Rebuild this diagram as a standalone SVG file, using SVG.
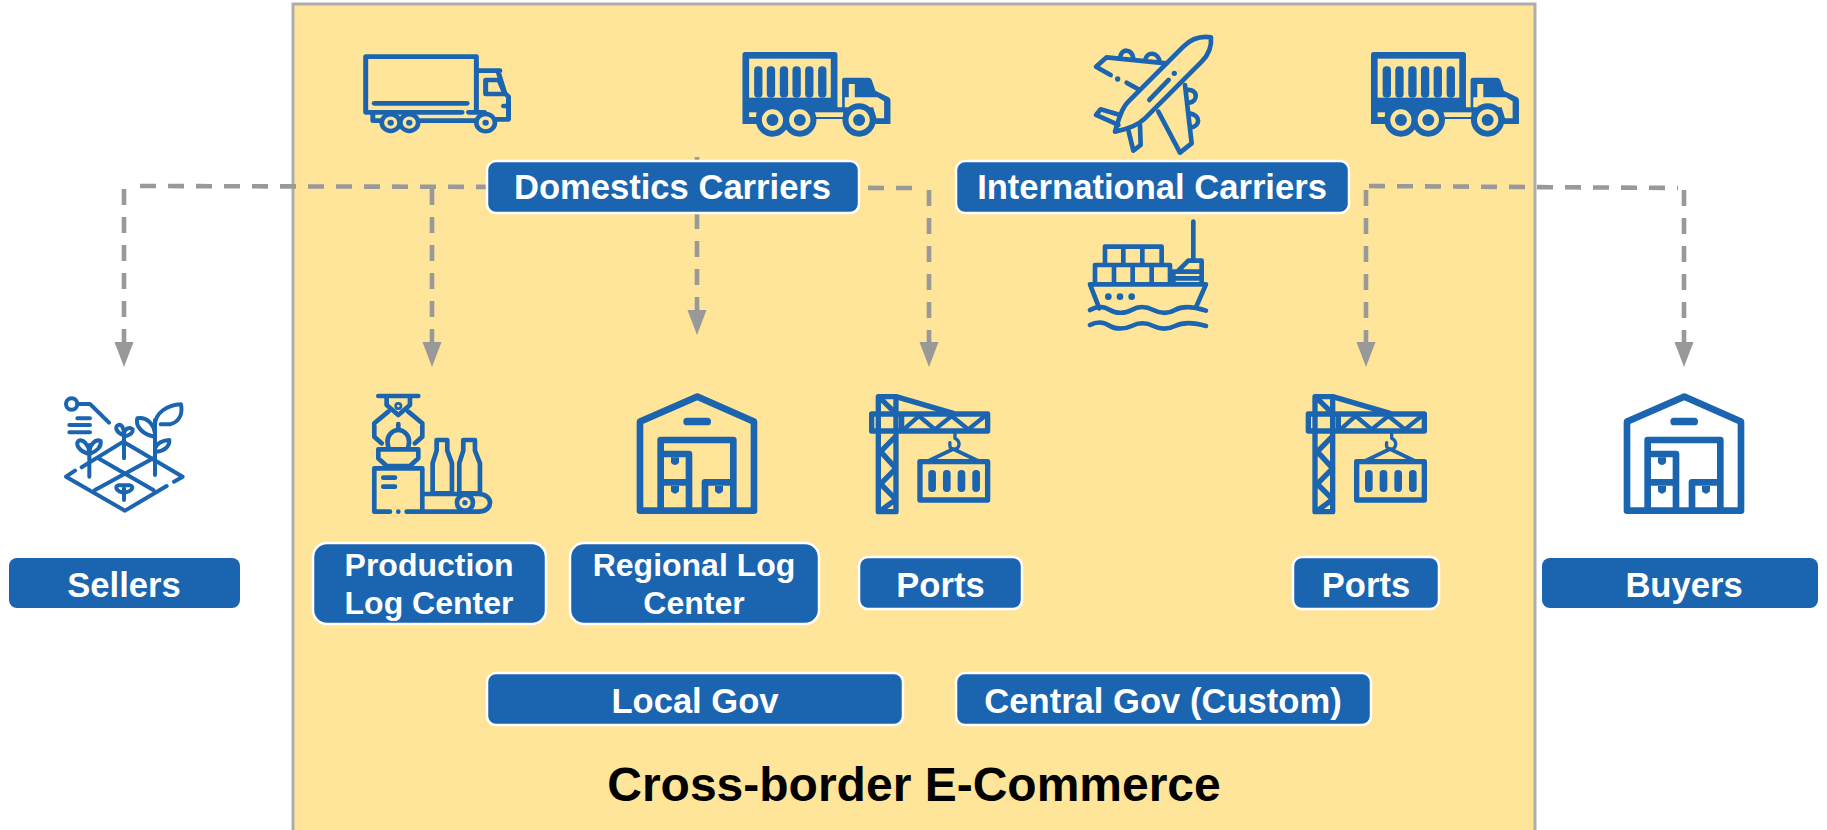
<svg xmlns="http://www.w3.org/2000/svg" width="1827" height="830" viewBox="0 0 1827 830">
<style>
.box{fill:#1b64b0;stroke:#fff;stroke-width:2.5}
.ext{fill:#1b64b0}
.lbl{font-family:"Liberation Sans",Arial,sans-serif;font-weight:700;font-size:34.6px;fill:#fff;text-anchor:middle}
.two{font-size:32px}
.title{font-family:"Liberation Sans",Arial,sans-serif;font-weight:700;font-size:48px;fill:#000;text-anchor:middle}
.conn{fill:none;stroke:#999;stroke-width:4.6;stroke-dasharray:16 12}
.arr{fill:none;stroke:#999;stroke-width:4.6;stroke-dasharray:16 12;marker-end:url(#ah)}
.ic{fill:none;stroke:#1b64b0;stroke-width:14;stroke-linecap:round;stroke-linejoin:round}
.f{fill:#1b64b0;stroke:none}
.y{fill:#ffe599;stroke:none}
</style>
<defs>
<marker id="ah" markerUnits="userSpaceOnUse" markerWidth="26" markerHeight="20" refX="0" refY="10" orient="auto">
<path d="M0 0.5L25 10L0 19.5Z" fill="#999"/>
</marker>
<g id="ctruck">
<path class="f" d="M933 104Q933 96 941 96H1210Q1218 96 1218 104V262H1232V180Q1232 173 1240 173H1310Q1318 173 1321 180L1332 212L1372 232Q1377 235 1377 240V312H1325V297H1145V312H933Z"/>
<rect class="y" x="953" y="116" width="245" height="117"/>
<g class="f"><rect x="968" y="139" width="25" height="94" rx="12"/><rect x="1006" y="139" width="25" height="94" rx="12"/><rect x="1045" y="139" width="25" height="94" rx="12"/><rect x="1083" y="139" width="25" height="94" rx="12"/><rect x="1121" y="139" width="25" height="94" rx="12"/><rect x="1160" y="139" width="25" height="94" rx="12"/></g>
<path class="y" d="M1252 192H1270V232H1252ZM1252 232H1338L1358 244V295H1335L1325 262H1240V232Z"/>
<rect class="y" x="953" y="277" width="22" height="14"/>
<rect class="y" x="1150" y="277" width="85" height="14"/>
<g fill="#ffe599" stroke="#1b64b0" stroke-width="18"><circle cx="1023" cy="300" r="41"/><circle cx="1105" cy="300" r="41"/><circle cx="1283" cy="300" r="41"/></g>
<g class="f"><circle cx="1023" cy="300" r="18"/><circle cx="1105" cy="300" r="18"/><circle cx="1283" cy="300" r="18"/></g>
</g>
<g id="wh">
<path d="M60 392V125L232 50L402 125V392Z" fill="none" stroke="#1b64b0" stroke-width="20" stroke-linejoin="round"/>
<rect class="f" x="190" y="113" width="83" height="23" rx="11"/>
<path d="M122 392V180H340V392M122 222H207V392M122 307H207M255 392V307H340" fill="none" stroke="#1b64b0" stroke-width="20" stroke-linejoin="round"/>
<path class="f" d="M153 232V248Q165 262 177 248V232ZM153 318V334Q165 348 177 334V318ZM285 318V334Q297 348 309 334V318Z"/>
</g>
<g id="crane">
<g fill="none" stroke="#1b64b0" stroke-width="16" stroke-linejoin="round" stroke-linecap="round">
<path d="M775 395V50H828V395ZM755 102H1103V153H755ZM845 102V153M828 50L1000 100M778 52L825 98M828 168L782 215L828 265L782 312L828 358L782 392"/>
<path d="M855 145L897 108L945 148L995 108L1045 148L1095 108" stroke-width="13"/>
<path d="M1005 158V175C1025 185 1018 210 1000 208C990 206 988 198 990 188" stroke-width="10"/>
<path d="M925 243L1000 207L1075 243" stroke-width="11"/>
<rect x="900" y="245" width="203" height="115"/>
</g>
<g class="f"><rect x="925" y="270" width="23" height="66" rx="11"/><rect x="969" y="270" width="23" height="66" rx="11"/><rect x="1013" y="270" width="23" height="66" rx="11"/><rect x="1057" y="270" width="23" height="66" rx="11"/></g>
</g>
</defs>
<rect id="panel" x="293" y="4" width="1242" height="830" fill="#ffe599" stroke="#aeaeae" stroke-width="3"/>
<g id="connectors">
<path class="conn" d="M140 186L912 188"/>
<path class="arr" d="M124 189V342"/>
<path class="arr" d="M432 189V342"/>
<path class="arr" d="M697 157V310"/>
<path class="arr" d="M929 190V342"/>
<path class="conn" d="M1369 186L1678 188"/>
<path class="arr" d="M1366 190V342"/>
<path class="arr" d="M1684 190V342"/>
</g>
<g id="truck-1" transform="translate(340 30) scale(.357 .3333)">
<path class="ic" d="M342 247H72V80H382V240M360 247H405M382 122H448M442 122L462 190L472 200V268H440M408 150H445L462 192H408ZM472 228H458M92 250V272H112M225 272H378"/>
<path class="ic" d="M96 220H356"/>
<g fill="#ffe599" stroke="#1b64b0" stroke-width="13"><circle cx="142" cy="278" r="25"/><circle cx="194" cy="278" r="25"/><circle cx="408" cy="278" r="26"/></g>
<g class="f"><circle cx="142" cy="278" r="9"/><circle cx="194" cy="278" r="9"/><circle cx="408" cy="278" r="9"/></g>
</g>
<use id="truck-2" href="#ctruck" transform="translate(431.5 20) scale(.3333)"/>
<g id="plane" transform="translate(1070 30) scale(.3333)">
<path class="ic" d="M423 22C395 18 365 25 340 50L175 215C155 235 145 270 135 305C170 298 205 285 225 265L395 95C420 70 425 45 423 22Z"/>
<path class="ic" d="M290 100L110 82L78 110L122 135M170 158L205 178M150 82C155 55 185 55 190 85M225 92C230 62 265 65 270 98M150 255L92 238L78 255L145 285M175 300L190 362L212 345L210 285M265 245L330 368L365 340L345 165M350 180C385 175 385 215 358 218M358 250C395 255 390 290 362 292M238 210L296 150"/>
<circle class="f" cx="143" cy="147" r="8"/><circle class="f" cx="313" cy="130" r="8"/>
</g>
<use id="truck-3" href="#ctruck" transform="translate(1060 20) scale(.3333)"/>
<g id="ship" transform="translate(1060 20) scale(.3333)">
<path class="ic" d="M400 605V722M135 735V680H305V735M190 680V735M247 680V735M105 790V735H330V790M162 735V790M218 735V790M275 735V790M340 790V755H425M340 775H425M425 790V722H385L352 755"/>
<path class="ic" d="M90 793H438L408 862M90 793L118 865M90 870C115 855 135 860 150 870S195 882 215 870S260 860 280 870S325 882 345 870S395 858 438 872M90 915C115 902 135 908 150 918S195 928 215 918S260 908 280 918S325 928 345 918S395 905 438 918"/>
<g class="f"><circle cx="145" cy="830" r="10"/><circle cx="180" cy="830" r="10"/><circle cx="215" cy="830" r="10"/></g>
</g>
<g id="domestics"><rect class="box" x="487" y="161" width="372" height="52" rx="9"/><text class="lbl" x="672.5" y="199">Domestics Carriers</text></g>
<g id="international"><rect class="box" x="956" y="161" width="393" height="52" rx="9"/><text class="lbl" x="1152" y="199">International Carriers</text></g>
<g id="sellers">
<g transform="translate(40 380) scale(.3333)">
<circle class="ic" cx="95" cy="72" r="17" style="stroke-width:12"/>
<path class="ic" style="stroke-width:12" d="M112 72H150L207 128M112 115H150M88 135H150M88 157H150M105 272L78 290L255 392L380 318M402 305L428 290L250 185L125 262M175 235L340 330M340 235L165 330M148 290V195M252 235V160M252 360V325M345 285V120"/>
<path class="ic" style="stroke-width:12" d="M148 222C120 215 105 195 115 183C130 175 145 195 148 215C150 195 165 175 182 183C185 200 170 215 148 222ZM252 165C230 160 222 140 235 135C245 132 252 145 252 160C255 145 270 140 278 148C280 158 270 165 252 170ZM252 338C230 335 222 320 235 316H270C285 320 275 335 252 338ZM345 170C310 165 285 140 292 115C320 110 340 130 345 160M345 135C345 100 380 75 423 73C428 100 420 125 390 133H362M345 215C370 215 390 200 388 180C370 180 350 190 345 205"/>
</g>
<rect class="ext" x="9" y="558" width="231" height="50" rx="8"/><text class="lbl" x="124" y="597">Sellers</text></g>
<g id="production">
<g transform="translate(40 380) scale(.3333)">
<path class="ic" d="M1015 48H1135M1040 50V75L1075 105L1110 75V50M1045 95L1003 130V170L1025 190M1105 95L1147 130V170L1125 190M1045 200C1035 165 1060 150 1075 150C1090 150 1115 165 1105 200M1075 132V150M1015 208H1135V235L1110 258H1040L1015 235ZM1050 395H1003V265H1147V395H1100M1030 293H1065M1030 320H1065M1190 180H1222V212L1236 250V340H1178V250L1190 212ZM1270 180H1305V212L1320 250V340H1258V250L1270 212ZM1147 342H1315C1362 342 1362 395 1315 395H1147"/>
<circle class="ic" cx="1075" cy="78" r="8" style="stroke-width:8"/>
<circle class="ic" cx="1275" cy="368" r="24"/><circle class="f" cx="1275" cy="368" r="8"/><circle class="f" cx="1075" cy="395" r="7"/>
</g>
<rect class="box" x="313" y="543" width="233" height="81" rx="14"/><text class="lbl two" x="429" y="576">Production</text><text class="lbl two" x="429" y="614">Log Center</text></g>
<g id="regional">
<use href="#wh" transform="translate(620 380) scale(.3333)"/>
<rect class="box" x="570" y="543" width="249" height="81" rx="14"/><text class="lbl two" x="694" y="576">Regional Log</text><text class="lbl two" x="694" y="614">Center</text></g>
<g id="ports-1">
<use href="#crane" transform="translate(620 380) scale(.3333)"/>
<rect class="box" x="859" y="557" width="163" height="52" rx="9"/><text class="lbl" x="940.5" y="597">Ports</text></g>
<g id="ports-2">
<use href="#crane" transform="translate(1056.7 380) scale(.3333)"/>
<rect class="box" x="1293" y="557" width="146" height="52" rx="9"/><text class="lbl" x="1366" y="597">Ports</text></g>
<g id="buyers">
<use href="#wh" transform="translate(1607 380) scale(.3333)"/>
<rect class="ext" x="1542" y="558" width="276" height="50" rx="8"/><text class="lbl" x="1684" y="597">Buyers</text></g>
<g id="local-gov"><rect class="box" x="487" y="673" width="416" height="52" rx="9"/><text class="lbl" x="695" y="713">Local Gov</text></g>
<g id="central-gov"><rect class="box" x="956" y="673" width="415" height="52" rx="9"/><text class="lbl" x="1163" y="713">Central Gov (Custom)</text></g>
<text id="title" class="title" x="914" y="801">Cross-border E-Commerce</text>
</svg>
